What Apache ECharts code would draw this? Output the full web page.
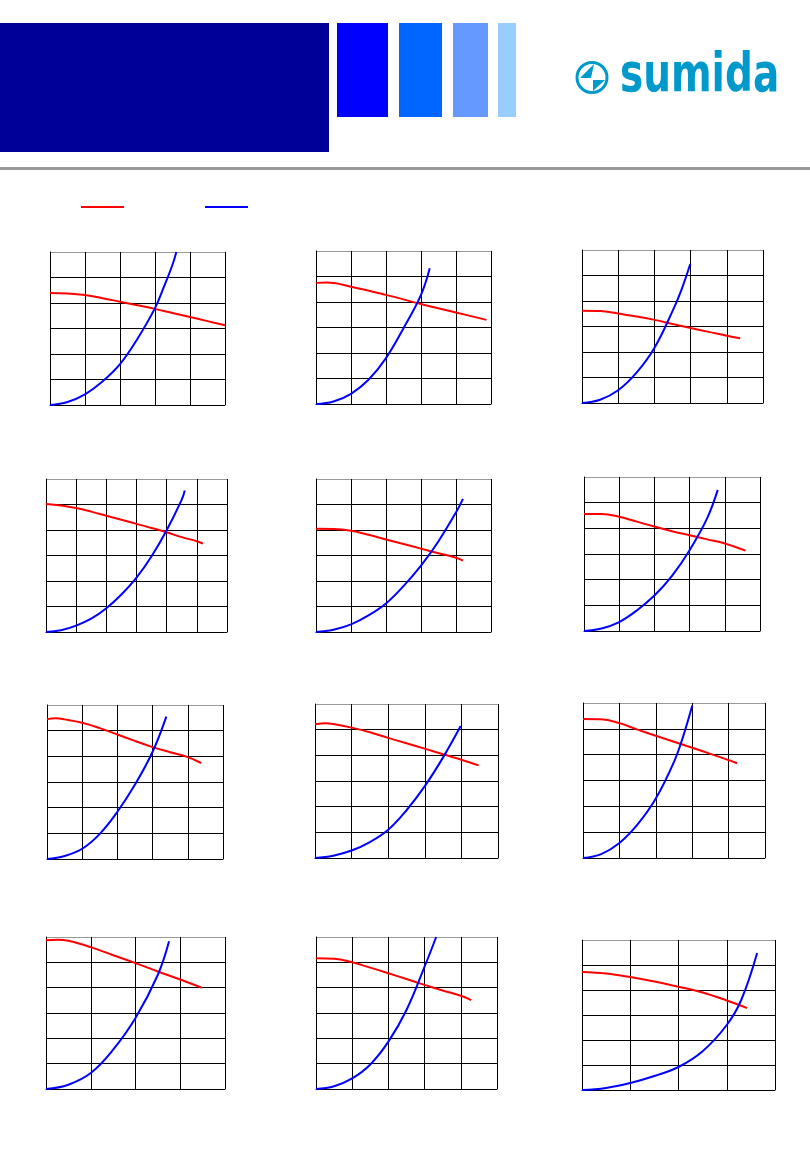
<!DOCTYPE html>
<html>
<head>
<meta charset="utf-8">
<script src="https://cdn.jsdelivr.net/npm/echarts@6/dist/echarts.min.js"></script>
<style>
html,body{margin:0;padding:0;background:#fff;}
#chart{width:810px;height:1170px;}
</style>
</head>
<body>
<div id="chart"></div>
<script>
// ---- data (normalized to grid divisions) ----
const seriesNames = ['Inductance', 'Temperature rise'];
const xDivisions = [5, 5, 5, 6, 5, 5, 5, 5, 5, 4, 5, 4];
const yDivisions = [6, 6, 6, 6, 6, 6, 6, 6, 6, 6, 6, 6];

const red1 = [[0,4.39],[0.5,4.37],[1,4.31],[1.5,4.19],[2,4.05],[2.5,3.91],[3,3.77],[3.5,3.61],[4,3.45],[4.5,3.29],[5,3.13]];
const blue1 = [[0,0],[0.5,0.12],[1,0.42],[1.5,0.92],[2,1.6],[2.5,2.6],[3,3.8],[3.25,4.62],[3.5,5.5],[3.61,6]];
const red2 = [[0,4.75],[0.3,4.76],[1,4.6],[2,4.28],[3,3.92],[4,3.59],[4.87,3.3]];
const blue2 = [[0,0],[0.5,0.1],[1,0.4],[1.5,0.95],[2,1.8],[2.5,2.97],[3,4.28],[3.25,5.32]];
const red3 = [[0,3.62],[0.5,3.61],[1,3.51],[1.5,3.39],[2,3.26],[2.5,3.1],[3,2.94],[3.5,2.79],[4,2.64],[4.37,2.54]];
const blue3 = [[0,0],[0.5,0.13],[1,0.5],[1.5,1.18],[2,2.16],[2.5,3.6],[2.75,4.45],[2.99,5.45]];
const red4 = [[0,5.02],[0.5,4.96],[1,4.86],[1.5,4.72],[2,4.56],[2.5,4.4],[3,4.24],[3.5,4.08],[4,3.91],[4.5,3.72],[5,3.56],[5.2,3.47]];
const blue4 = [[0,0],[0.5,0.07],[1,0.25],[1.5,0.52],[2,0.93],[2.5,1.47],[3,2.13],[3.5,2.97],[4,3.99],[4.5,5.19],[4.6,5.55]];
const red5 = [[0,4.05],[0.5,4.04],[1,3.97],[1.5,3.81],[2,3.63],[2.5,3.45],[3,3.27],[3.5,3.09],[4,2.91],[4.2,2.8]];
const blue5 = [[0,0],[0.5,0.09],[1,0.3],[1.5,0.65],[2,1.12],[2.5,1.8],[3,2.6],[3.5,3.56],[4,4.69],[4.2,5.22]];
const red6 = [[0,4.56],[0.5,4.56],[1,4.45],[1.5,4.26],[2,4.07],[2.5,3.89],[3,3.73],[3.5,3.57],[4,3.41],[4.59,3.13]];
const blue6 = [[0,0],[0.5,0.1],[1,0.35],[1.5,0.8],[2,1.38],[2.5,2.15],[3,3.15],[3.5,4.4],[3.8,5.5]];
const red7 = [[0,5.45],[0.25,5.48],[0.5,5.44],[1,5.31],[1.5,5.1],[2,4.85],[2.5,4.6],[3,4.36],[3.5,4.16],[4,3.97],[4.38,3.74]];
const blue7 = [[0,0],[0.5,0.12],[1,0.4],[1.5,0.98],[2,1.84],[2.5,2.9],[3,4.18],[3.39,5.55]];
const red8 = [[0,5.21],[0.3,5.25],[0.5,5.22],[1,5.08],[1.5,4.9],[2,4.68],[2.5,4.47],[3,4.26],[3.5,4.04],[4,3.83],[4.47,3.61]];
const blue8 = [[0,0],[0.5,0.09],[1,0.29],[1.5,0.62],[2,1.1],[2.5,1.86],[3,2.8],[3.5,3.92],[3.98,5.14]];
const red9 = [[0,5.38],[0.5,5.37],[1,5.22],[1.5,4.97],[2,4.73],[2.5,4.5],[3,4.27],[3.5,4.03],[4,3.79],[4.23,3.67]];
const blue9 = [[0,0],[0.5,0.15],[1,0.58],[1.5,1.3],[2,2.3],[2.5,3.72],[2.75,4.7],[3.0,5.89]];
const red10 = [[0,5.87],[0.25,5.89],[0.5,5.85],[1,5.6],[1.5,5.28],[2,4.97],[2.5,4.64],[3,4.32],[3.49,3.99]];
const blue10 = [[0,0],[0.5,0.17],[1,0.63],[1.5,1.55],[2,2.8],[2.5,4.51],[2.75,5.83]];
const red11 = [[0,5.16],[0.5,5.14],[1,5.0],[1.5,4.79],[2,4.57],[2.5,4.34],[3,4.11],[3.5,3.89],[4,3.68],[4.29,3.51]];
const blue11 = [[0,0],[0.5,0.11],[1,0.42],[1.5,0.97],[2,1.87],[2.5,3.12],[3,4.83],[3.32,6.0]];
const red12 = [[0,4.72],[0.5,4.66],[1,4.52],[1.5,4.34],[2,4.13],[2.5,3.9],[3,3.58],[3.42,3.28]];
const blue12 = [[0,0],[0.5,0.08],[1,0.28],[1.5,0.56],[2,0.92],[2.5,1.55],[3,2.6],[3.3,3.6],[3.63,5.48]];

const redSets = [red1, red2, red3, red4, red5, red6, red7, red8, red9, red10, red11, red12];
const blueSets = [blue1, blue2, blue3, blue4, blue5, blue6, blue7, blue8, blue9, blue10, blue11, blue12];

// ---- layout (px) ----
const gridBoxes = [
  [50, 252, 175, 153], [316, 251, 175, 153], [582, 250, 181, 153],
  [46, 479, 181, 153], [316, 479, 175, 153], [584, 477, 176, 154],
  [47, 705, 176, 154], [315, 704, 183, 154], [583, 703, 182, 155],
  [46, 937, 179, 152], [316, 937, 181, 152], [582, 940, 193, 150]
];

const RED = '#FF0000', BLUE = '#0000FF';
const grids = [], xAxes = [], yAxes = [], series = [];
gridBoxes.forEach((b, i) => {
  grids.push({left: b[0], top: b[1], width: b[2], height: b[3], containLabel: false});
  xAxes.push({
    type: 'value', gridIndex: i, min: 0, max: xDivisions[i], interval: 1,
    axisLine: {show: true, onZero: false, lineStyle: {color: '#000', width: 1}},
    axisTick: {show: false}, axisLabel: {show: false},
    splitLine: {show: true, lineStyle: {color: '#000', width: 1}}
  });
  const yCols = [];
  for (let k = 0; k < yDivisions[i]; k++) yCols.push('#000');
  yCols.push('#999');
  yAxes.push({
    type: 'value', gridIndex: i, min: 0, max: yDivisions[i], interval: 1,
    axisLine: {show: true, onZero: false, lineStyle: {color: '#000', width: 1}},
    axisTick: {show: false}, axisLabel: {show: false},
    splitLine: {show: true, lineStyle: {color: yCols, width: 1}}
  });
  series.push({
    name: seriesNames[0], type: 'line', xAxisIndex: i, yAxisIndex: i,
    data: redSets[i], showSymbol: false, smooth: 0.4,
    lineStyle: {color: RED, width: 2}, itemStyle: {color: RED}, silent: true, z: 3
  });
  series.push({
    name: seriesNames[1], type: 'line', xAxisIndex: i, yAxisIndex: i,
    data: blueSets[i], showSymbol: false, smooth: 0.4,
    lineStyle: {color: BLUE, width: 2}, itemStyle: {color: BLUE}, silent: true, z: 4
  });
});

const graphic = [
  {type: 'rect', shape: {x: 0, y: 23, width: 329, height: 129}, style: {fill: '#000099'}},
  {type: 'rect', shape: {x: 337, y: 23, width: 51, height: 94}, style: {fill: '#0000FF'}},
  {type: 'rect', shape: {x: 399, y: 23, width: 43, height: 94}, style: {fill: '#0066FF'}},
  {type: 'rect', shape: {x: 453, y: 23, width: 35, height: 94}, style: {fill: '#6699FF'}},
  {type: 'rect', shape: {x: 498, y: 23, width: 18, height: 94}, style: {fill: '#99CCFF'}},
  {type: 'rect', shape: {x: 0, y: 167, width: 810, height: 3}, style: {fill: '#999999'}},
  {type: 'circle', shape: {cx: 592, cy: 77.5, r: 15}, style: {fill: 'none', stroke: '#0099CC', lineWidth: 3}},
  {type: 'polygon', shape: {points: [[580, 78], [591, 78], [594, 64]]}, style: {fill: '#0099CC'}},
  {type: 'polygon', shape: {points: [[593, 80], [605, 80], [593, 91]]}, style: {fill: '#0099CC'}},
  {type: 'text', x: 620, y: 104, scaleX: 0.78, scaleY: 1.05,
   style: {text: 'sumida', fill: '#0099CC', font: 'bold 50px "DejaVu Sans"', verticalAlign: 'bottom'}}
];

const legendCommon = {
  icon: 'rect', itemWidth: 43, itemHeight: 2, top: 206, orient: 'horizontal',
  formatter: () => '', selectedMode: false, textStyle: {fontSize: 1}, padding: 0
};

const chart = echarts.init(document.getElementById('chart'), null, {renderer: 'canvas'});
chart.setOption({
  animation: false,
  backgroundColor: '#fff',
  color: [RED, BLUE],
  legend: [
    Object.assign({}, legendCommon, {data: [seriesNames[0]], left: 81}),
    Object.assign({}, legendCommon, {data: [seriesNames[1]], left: 205})
  ],
  grid: grids, xAxis: xAxes, yAxis: yAxes, series: series,
  graphic: graphic
});
</script>
</body>
</html>
